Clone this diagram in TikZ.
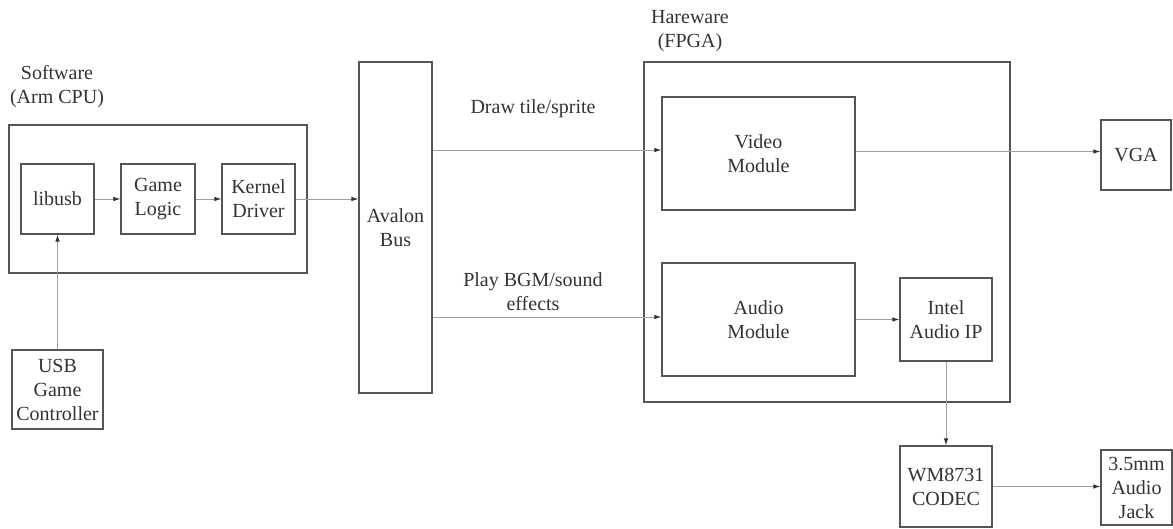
\documentclass[tikz,border=0pt]{standalone}
\usepackage{fontspec}
\setmainfont{Liberation Serif}
\usetikzlibrary{arrows.meta}
\definecolor{boxline}{HTML}{555555}
\definecolor{arrline}{HTML}{A0A0A0}
\definecolor{txt}{HTML}{333333}
\tikzset{
  blk/.style={draw=boxline, line width=1.2pt, rectangle, inner sep=0pt, align=center, text=txt,
    font=\fontsize{20}{24}\selectfont},
  lbl/.style={align=center, text=txt, font=\fontsize{20}{24}\selectfont, inner sep=0pt},
  arr/.style={draw=arrline, line width=0.9pt, -{Latex[length=7pt,width=4.5pt,fill=txt,color=txt]}}
}
\begin{document}
\begin{tikzpicture}[x=1pt,y=-1pt]
\useasboundingbox[fill=white] (0,0) rectangle (1173,529);
% containers
\node[blk, minimum width=298, minimum height=148] (sw) at (158,199) {};
\node[blk, minimum width=366, minimum height=340] (hw) at (827,232) {};
\node[lbl] (swl) at (57,87) {Software\\(Arm CPU)};
\node[lbl] (hwl) at (690,31) {Hareware\\(FPGA)};
% software blocks
\node[blk, minimum width=73, minimum height=70] (libusb) at (57.5,199) {libusb};
\node[blk, minimum width=74, minimum height=70] (game) at (158,199) {Game\\Logic};
\node[blk, minimum width=73, minimum height=70] (kernel) at (258.5,199) {Kernel\\Driver};
\node[blk, minimum width=91, minimum height=79] (usb) at (57.5,389.5) {USB\\Game\\Controller};
% bus
\node[blk, minimum width=73, minimum height=331] (avalon) at (395.5,227.5) {Avalon\\Bus};
% hardware blocks
\node[blk, minimum width=193, minimum height=113] (video) at (758.5,153.5) {Video\\Module};
\node[blk, minimum width=193, minimum height=113] (audio) at (758.5,319.5) {Audio\\Module};
\node[blk, minimum width=92, minimum height=83] (intel) at (946,319.5) {Intel\\Audio IP};
\node[blk, minimum width=70, minimum height=70] (vga) at (1136,155) {VGA};
\node[blk, minimum width=92, minimum height=81] (wm) at (946,486.5) {WM8731\\CODEC};
\node[blk, minimum width=71, minimum height=75] (jack) at (1136.5,487.5) {3.5mm\\Audio\\Jack};
% labels
\node[lbl] (drawl) at (533,109) {Draw tile/sprite};
\node[lbl] (playl) at (533,292) {Play BGM/sound\\effects};
% connectors
\draw[arr] (libusb.east) -- (game.west);
\draw[arr] (game.east) -- (kernel.west);
\draw[arr] (kernel.east) -- (kernel.east -| avalon.west);
\draw[arr] (usb.north) -- (libusb.south);
\draw[arr] ([yshift=3.5pt]avalon.east |- video.west) -- ([yshift=3.5pt]video.west);
\draw[arr] ([yshift=2.5pt]avalon.east |- audio.west) -- ([yshift=2.5pt]audio.west);
\draw[arr] ([yshift=2pt]video.east) -- ([yshift=2pt]video.east -| vga.west);
\draw[arr] (audio.east) -- (intel.west);
\draw[arr] (intel.south) -- (wm.north);
\draw[arr] (wm.east) -- (wm.east -| jack.west);
\end{tikzpicture}
\end{document}
